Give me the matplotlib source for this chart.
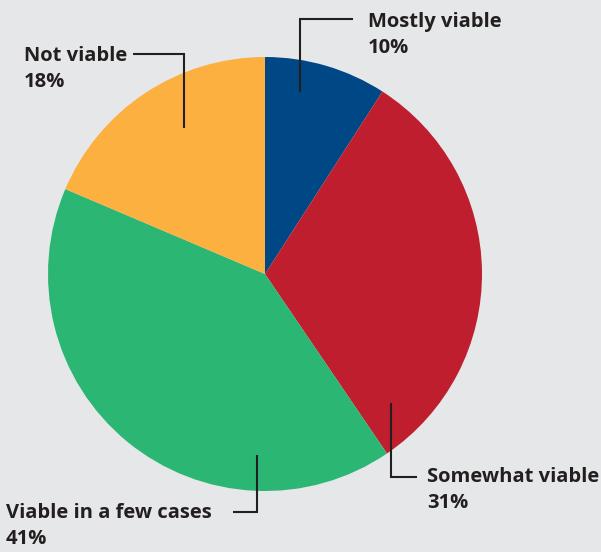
import matplotlib
matplotlib.use("Agg")
import matplotlib.pyplot as plt

categories = ["Mostly viable", "Somewhat viable", "Viable in a few cases", "Not viable"]
values = [9.1, 31.4, 40.9, 18.6]
pct_labels = ["10%", "31%", "41%", "18%"]
colors = ["#004785", "#be1e2d", "#2bb673", "#fbb040"]

W, H = 601, 552
BG = "#e6e7e8"
INK = "#231f20"

fig = plt.figure(figsize=(W / 100, H / 100), dpi=100, facecolor=BG)
ax = fig.add_axes([0, 0, 1, 1])
ax.set_facecolor(BG)

def Y(yp):
    return H - yp

cx, cy, r = 265, 274, 217
ax.pie(values, colors=colors, startangle=90, counterclock=False,
       center=(cx, Y(cy)), radius=r, frame=True,
       wedgeprops=dict(linewidth=0))
ax.set_xlim(0, W)
ax.set_ylim(0, H)
ax.set_aspect("equal")
ax.axis("off")

# leader lines (pixel coords) and label anchors
leaders = [
    [(300, 92), (300, 19), (353, 19)],
    [(391, 403), (391, 477), (417, 477)],
    [(257, 455), (257, 512), (233, 512)],
    [(184, 128), (184, 54), (133, 54)],
]
label_pos = [(368, 27), (427, 482), (6, 518), (24, 61)]
line_gap = 26

font = dict(family=["Open Sans", "DejaVu Sans"], fontweight="bold", fontsize=14.5, color=INK)
for cat, pct, pts, (lx, ly) in zip(categories, pct_labels, leaders, label_pos):
    xs = [p[0] for p in pts]
    ys = [Y(p[1]) for p in pts]
    ax.plot(xs, ys, color=INK, lw=1.5, solid_joinstyle="miter", solid_capstyle="butt")
    ax.text(lx, Y(ly), cat, ha="left", va="baseline", **font)
    ax.text(lx, Y(ly + line_gap), pct, ha="left", va="baseline", **font)

fig.savefig("out.png", dpi=100, facecolor=BG)
